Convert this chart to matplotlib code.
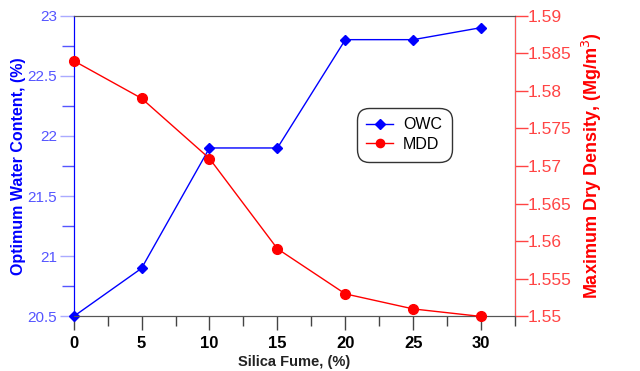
import matplotlib
matplotlib.use('Agg')
import matplotlib.pyplot as plt
from matplotlib.ticker import MultipleLocator

plt.rcParams['font.family'] = ['Liberation Sans', 'DejaVu Sans']

silica_fume = [0, 5, 10, 15, 20, 25, 30]
owc = [20.5, 20.9, 21.9, 21.9, 22.8, 22.8, 22.9]
mdd = [1.584, 1.579, 1.571, 1.559, 1.553, 1.551, 1.550]

blue = '#0000ff'
red = '#ff0000'
tick_blue = '#5555ff'
tick_red = '#ff4444'

fig, ax = plt.subplots(figsize=(6.4, 3.71), dpi=100)
fig.subplots_adjust(left=0.115, right=0.805, top=0.958, bottom=0.147)
ax2 = ax.twinx()

l1, = ax.plot(silica_fume, owc, color=blue, marker='D', markersize=5.5, lw=1, label='OWC', zorder=3, clip_on=False)
l2, = ax2.plot(silica_fume, mdd, color=red, marker='o', markersize=7, lw=1, label='MDD', zorder=3, clip_on=False)

ax.set_xlim(0, 32.5)
ax.set_ylim(20.5, 23)
ax2.set_ylim(1.55, 1.59)

ax.xaxis.set_major_locator(MultipleLocator(5))
ax.xaxis.set_minor_locator(MultipleLocator(2.5))
ax.yaxis.set_minor_locator(MultipleLocator(0.25))

ax.set_yticks([20.5, 21, 21.5, 22, 22.5, 23])
ax.set_yticklabels(['20.5', '21', '21.5', '22', '22.5', '23'])
ax2.set_yticks([1.55, 1.555, 1.56, 1.565, 1.57, 1.575, 1.58, 1.585, 1.59])
ax2.set_yticklabels(['1.55', '1.555', '1.56', '1.565', '1.57', '1.575', '1.58', '1.585', '1.59'])

ax.tick_params(axis='x', which='major', length=10, width=1, color='#444444', labelsize=12, pad=4)
ax.tick_params(axis='x', which='minor', length=7, width=1, color='#444444')
for lab in ax.get_xticklabels():
    lab.set_fontweight('bold')
ax.tick_params(axis='y', which='major', length=10, width=1, color='#aaaaff', labelcolor=tick_blue, labelsize=11, pad=2)
ax.tick_params(axis='y', which='minor', length=9, width=1, color='#5555ff')
ax2.tick_params(axis='y', which='major', length=9, width=1, color=tick_red, labelcolor=tick_red, labelsize=12.5, pad=0)

ax.spines['left'].set_color(blue)
ax2.spines['left'].set_color(blue)
ax2.spines['right'].set_color('#ff5555')
ax.spines['top'].set_color('#555555')
ax2.spines['top'].set_color('#555555')
ax.spines['bottom'].set_color('#555555')
ax2.spines['bottom'].set_color('#555555')

ax.set_xlabel('Silica Fume, (%)', fontsize=10.5, fontweight='bold', color='#222222', labelpad=3)
ax.set_ylabel('Optimum Water Content, (%)', fontsize=11.5, fontweight='bold', color=blue, labelpad=1)
ax2.set_ylabel('Maximum Dry Density, (Mg/m$^{3}$)', fontsize=13, fontweight='bold', color=red, labelpad=6)

leg = ax2.legend(handles=[l1, l2], loc='upper left', bbox_to_anchor=(0.63, 0.71),
                 fontsize=11.5, frameon=True, fancybox=True, edgecolor='#333333',
                 handlelength=1.7, handletextpad=0.6, borderpad=0.4, labelspacing=0.3,
                 markerscale=0.85, framealpha=1)
leg.get_frame().set_linewidth(1)
leg.get_frame().set_boxstyle('round,pad=0.2,rounding_size=0.8')

plt.savefig('out.png', dpi=100)
